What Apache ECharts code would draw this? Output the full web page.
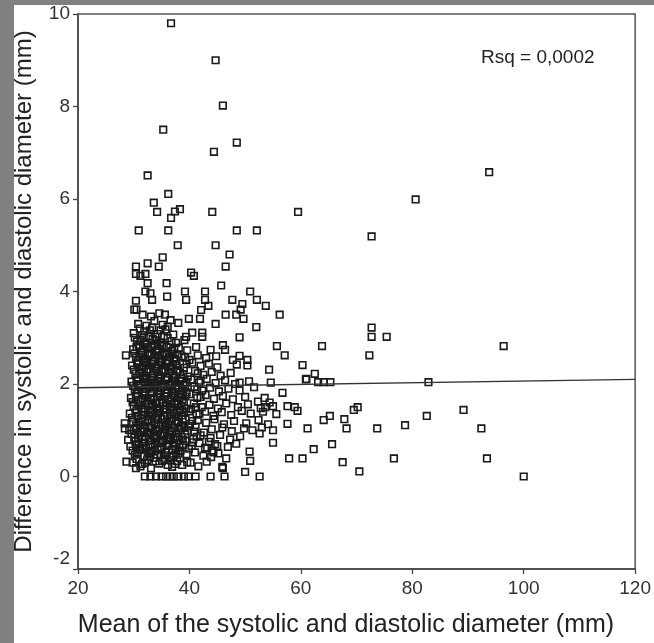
<!DOCTYPE html>
<html>
<head>
<meta charset="utf-8">
<script src="https://cdn.jsdelivr.net/npm/echarts@6/dist/echarts.min.js"></script>
<style>
html,body{margin:0;padding:0;background:#808080;}
#chart{width:654px;height:643px;}
</style>
</head>
<body>
<div id="chart"></div>
<script>
// ---- data ----
const xTickValues = [20, 40, 60, 80, 100, 120];
const yTickValues = [-2, 0, 2, 4, 6, 8, 10];
const xTitle = 'Mean of the systolic and diastolic diameter (mm)';
const yTitle = 'Difference in systolic and diastolic diameter (mm)';
const rsqText = 'Rsq = 0,0002';
const fitLine = [[20, 1.92], [120, 2.10]];

const outlierPoints = [
  [36.7,9.80],[44.7,9.0],[46.0,8.02],[35.3,7.50],[48.5,7.22],[44.4,7.02],
  [32.5,6.51],[36.2,6.11],[33.6,5.92],[34.2,5.72],[36.7,5.59],[37.4,5.73],
  [38.3,5.78],[44.1,5.72],[59.5,5.72],[30.9,5.32],[36.2,5.32],[48.5,5.32],
  [52.1,5.32],[37.9,5.0],[44.7,5.0],[47.2,4.80],[93.8,6.58],[80.6,5.99],
  [72.7,5.19]
];

const upperPoints = [
  [35.2,4.74],[32.5,4.61],[30.4,4.54],[34.5,4.54],[46.5,4.54],[30.4,4.38],
  [31.2,4.34],[32.1,4.38],[40.3,4.41],[40.8,4.34],[32.5,4.18],[35.9,4.18],
  [45.7,4.13],[32.1,4.0],[33.0,3.96],[39.2,4.0],[39.4,3.82],[42.8,4.0],
  [42.8,3.82],[50.9,4.0],[52.1,3.82],[53.7,3.69],[36.0,3.89],[33.3,3.82],
  [30.4,3.80],[30.1,3.61],[30.5,3.61],[47.7,3.82],[49.5,3.73],[49.2,3.61],
  [43.4,3.69],[42.1,3.6],[56.2,3.50],[35.6,3.50],[46.5,3.50],[48.4,3.50],
  [39.9,3.41],[41.9,3.41],[49.7,3.41],[44.7,3.30],[52.0,3.23],[39.4,3.02],
  [40.5,3.11],[42.3,3.11],[42.3,3.02],[49.0,3.01],[55.7,2.82],[57.1,2.62],
  [63.8,2.82],[46.0,2.84],[46.4,2.74],[47.8,2.52],[49.0,2.61],[50.4,2.52],
  [50.4,2.40],[54.3,2.31],[28.6,2.62]
];

const rightPoints = [
  [72.7,3.22],[72.7,3.02],[75.4,3.02],[96.4,2.82],[72.3,2.62],[60.3,2.41],
  [62.5,2.22],[61.0,2.11],[60.9,2.10],[63.1,2.04],[64.1,2.04],[65.3,2.04],
  [82.9,2.04],[54.6,2.03],[56.7,1.81],[49.0,2.03],[57.6,1.52],[58.9,1.50],
  [59.4,1.42],[70.2,1.50],[69.5,1.44],[65.2,1.31],[64.1,1.22],[67.8,1.24],
  [82.6,1.31],[89.2,1.44],[57.6,1.14],[61.2,1.04],[68.2,1.04],[73.7,1.04],
  [78.7,1.11],[92.4,1.04],[65.6,0.70],[62.3,0.59],[57.9,0.39],[60.3,0.39],
  [67.5,0.31],[70.5,0.11],[76.7,0.39],[93.4,0.39],[100.0,0.0],
  [52.3,1.62],[53.6,1.50],[54.4,1.60]
];

const lowerPoints = [
  [52.6,0.0],[50.0,0.10],[46.3,0.0],[43.8,0.0],[46.0,0.18],[41.1,0.0],[39.8,0.0],
  [32.0,0.0],[33.0,0.0],[34.0,0.0],[35.0,0.0],[35.8,0.0],[36.5,0.0],[37.2,0.0],
  [38.0,0.0],[39.0,0.0],[50.8,0.54],[50.9,0.34],[55.0,0.73],[52.6,0.93],
  [55.0,1.0],[46.6,0.39],[43.1,0.32],[45.9,0.21],[28.7,0.32],[30.4,0.18],
  [29.0,0.79],[30.4,0.68],[28.4,1.15],[28.4,1.04],
  [42.8,0.62],[43.5,0.75],[44.3,0.52],[45.0,0.66],[43.9,0.42]
];

const denseRows = [
  [29.8,0.3],[31.2,0.22],[32.4,0.35],[33.1,0.18],[34.6,0.28],[35.5,0.36],[36.9,0.21],[37.8,0.33],[38.7,0.25],[40.2,0.3],[41.6,0.22],
  [30.6,0.5],[31.9,0.44],[33.3,0.55],[34.2,0.47],[35.8,0.52],[37.1,0.45],[38.4,0.56],[39.5,0.48],[41.0,0.52],[42.5,0.45],[44.1,0.56],[45.2,0.5],
  [29.4,0.65],[30.9,0.7],[32.2,0.62],[33.8,0.72],[34.9,0.64],[36.3,0.71],[37.5,0.6],[38.9,0.68],[40.4,0.66],[41.8,0.72],[43.2,0.62],[44.6,0.7],[46.9,0.64],[48.4,0.71],
  [30.1,0.84],[31.5,0.8],[32.8,0.9],[34.0,0.82],[35.4,0.88],[36.6,0.79],[37.9,0.86],[39.2,0.91],[40.7,0.81],[42.0,0.89],[43.8,0.83],[45.5,0.9],[47.3,0.8],[49.1,0.87],
  [29.2,1.0],[30.5,1.05],[31.8,0.96],[33.0,1.06],[34.4,0.98],[35.7,1.08],[36.9,0.97],[38.2,1.04],[39.6,0.99],[41.1,1.07],[42.6,0.95],[44.0,1.02],[45.9,1.06],[47.6,0.98],[49.8,1.04],[51.3,1.0],[53.0,1.06],
  [29.9,1.18],[31.1,1.12],[32.5,1.22],[33.7,1.15],[35.0,1.24],[36.2,1.13],[37.6,1.2],[38.8,1.25],[40.1,1.14],[41.5,1.22],[43.0,1.16],[44.5,1.24],[46.2,1.13],[48.0,1.2],[50.2,1.15],[52.4,1.22],[54.1,1.13],
  [29.3,1.36],[30.7,1.31],[32.0,1.4],[33.4,1.33],[34.7,1.42],[36.0,1.3],[37.3,1.38],[38.6,1.32],[39.9,1.41],[41.3,1.34],[42.8,1.4],[44.3,1.31],[45.8,1.39],[47.5,1.33],[49.4,1.42],[51.0,1.36],[53.2,1.4],[55.6,1.35],
  [30.0,1.52],[31.4,1.47],[32.7,1.57],[34.1,1.49],[35.3,1.6],[36.7,1.5],[38.0,1.56],[39.4,1.47],[40.8,1.58],[42.2,1.5],[43.6,1.55],[45.1,1.47],[46.6,1.58],[48.7,1.5],[50.5,1.56],[52.8,1.48],[55.0,1.52],
  [29.5,1.7],[30.8,1.66],[32.1,1.75],[33.5,1.68],[34.8,1.77],[36.1,1.67],[37.4,1.74],[38.7,1.66],[40.0,1.78],[41.4,1.7],[42.9,1.76],[44.4,1.68],[46.0,1.74],[47.8,1.67],[50.0,1.72],[53.5,1.7],
  [30.2,1.88],[31.6,1.83],[32.9,1.93],[34.3,1.85],[35.6,1.95],[36.8,1.84],[38.1,1.9],[39.5,1.82],[40.9,1.94],[42.3,1.86],[43.7,1.92],[45.3,1.84],[47.0,1.9],[49.0,1.86],[51.6,1.93],
  [29.6,2.05],[30.9,2.0],[32.3,2.1],[33.6,2.02],[34.9,2.12],[36.2,2.01],[37.5,2.08],[38.9,2.0],[40.3,2.1],[41.7,2.03],[43.1,2.11],[44.7,2.02],[46.4,2.08],[48.2,2.0],[50.7,2.06],
  [30.3,2.22],[31.7,2.17],[33.0,2.27],[34.4,2.19],[35.7,2.29],[37.0,2.18],[38.3,2.25],[39.7,2.16],[41.0,2.28],[42.5,2.2],[44.0,2.26],[45.6,2.18],[47.4,2.24],
  [29.7,2.4],[31.0,2.36],[32.4,2.45],[33.8,2.38],[35.1,2.47],[36.4,2.37],[37.7,2.43],[39.0,2.35],[40.5,2.46],[42.0,2.39],[43.5,2.44],[45.0,2.36],[48.5,2.42],
  [30.4,2.57],[31.8,2.53],[33.2,2.62],[34.5,2.55],[35.9,2.64],[37.2,2.54],[38.6,2.6],[40.0,2.52],[41.5,2.62],[43.0,2.56],[44.8,2.6],
  [29.9,2.75],[31.3,2.7],[32.6,2.8],[34.0,2.72],[35.4,2.82],[36.8,2.71],[38.1,2.78],[39.6,2.73],[41.2,2.8],[43.8,2.74],
  [30.6,2.92],[32.0,2.88],[33.4,2.97],[34.8,2.9],[36.1,2.99],[37.6,2.89],[39.1,2.95],
  [30.0,3.1],[31.5,3.06],[32.9,3.16],[34.3,3.08],[35.7,3.18],[37.1,3.07],
  [30.8,3.3],[32.3,3.26],[33.7,3.36],[35.2,3.28],[36.6,3.38],[38.0,3.32],
  [31.6,3.5],[33.1,3.46],[34.6,3.53]
];

const coreFill = [
  [30.5,0.38],[32.0,0.3],[33.6,0.4],[35.1,0.33],[36.4,0.42],[37.4,0.27],
  [29.8,0.56],[31.2,0.6],[32.8,0.5],[34.3,0.58],[35.6,0.46],[36.9,0.57],[38.0,0.5],
  [30.3,0.76],[31.8,0.73],[33.2,0.78],[34.5,0.74],[36.0,0.8],[37.3,0.72],
  [29.6,0.92],[31.0,0.89],[32.4,0.95],[33.6,0.88],[35.1,0.94],[36.4,0.9],[37.6,0.93],[38.6,0.86],
  [30.4,1.09],[31.9,1.04],[33.3,1.1],[34.6,1.03],[35.9,1.1],[37.3,1.05],[38.5,1.1],
  [29.7,1.27],[31.3,1.25],[32.6,1.3],[34.0,1.27],[35.5,1.31],[36.8,1.26],[38.1,1.29],[39.3,1.24],
  [30.5,1.43],[31.7,1.45],[33.1,1.44],[34.4,1.46],[35.8,1.44],[37.0,1.45],[38.3,1.44],
  [29.8,1.61],[31.2,1.62],[32.5,1.64],[33.9,1.6],[35.2,1.66],[36.5,1.62],[37.8,1.63],[39.0,1.61],
  [30.5,1.79],[31.9,1.8],[33.2,1.8],[34.6,1.8],[35.9,1.8],[37.2,1.8],[38.5,1.78],
  [29.9,1.96],[31.3,1.97],[32.6,1.98],[33.9,1.96],[35.3,1.99],[36.5,1.96],[37.9,1.97],[39.2,1.96],
  [30.6,2.13],[32.0,2.14],[33.3,2.14],[34.7,2.15],[36.0,2.13],[37.3,2.14],[38.6,2.12],
  [30.0,2.31],[31.4,2.32],[32.7,2.32],[34.1,2.33],[35.4,2.31],[36.7,2.32],[38.0,2.31],
  [30.7,2.49],[32.0,2.5],[33.4,2.5],[34.8,2.5],[36.1,2.49],[37.5,2.5],
  [30.1,2.66],[31.5,2.67],[32.9,2.67],[34.2,2.68],[35.6,2.67],[37.0,2.66],
  [30.9,2.84],[32.3,2.85],[33.7,2.85],[35.1,2.85],
  [30.2,3.0],[31.8,3.01],[33.9,3.02]
];

const coreFill2 = [
  [31.5,0.27],[33.9,0.33],[36.1,0.25],[38.3,0.4],[39.6,0.31],
  [30.2,0.47],[32.5,0.52],[35.0,0.58],[37.6,0.51],[39.9,0.6],
  [31.6,0.66],[33.4,0.64],[35.9,0.68],[38.2,0.63],[40.6,0.74],
  [30.8,0.82],[33.7,0.85],[36.2,0.84],[38.8,0.8],[41.3,0.86],
  [31.4,0.99],[34.0,1.02],[36.6,1.0],[39.1,1.07],[40.9,0.97],
  [30.9,1.17],[33.2,1.19],[35.6,1.16],[38.0,1.15],[40.5,1.2],
  [31.8,1.34],[34.3,1.37],[36.5,1.35],[39.0,1.38],[41.8,1.36],
  [30.9,1.53],[33.4,1.51],[35.9,1.54],[38.6,1.52],[41.2,1.5],
  [31.6,1.69],[34.2,1.72],[36.8,1.71],[39.3,1.73],[42.0,1.72],
  [30.8,1.87],[33.5,1.9],[36.1,1.88],[38.8,1.86],[41.4,1.89],
  [31.9,2.05],[34.3,2.07],[36.9,2.05],[39.5,2.04],[42.0,2.07],
  [31.0,2.24],[33.6,2.23],[36.3,2.24],[38.9,2.21],[41.5,2.23],
  [31.7,2.41],[34.4,2.42],[37.0,2.41],[39.5,2.43],
  [31.0,2.59],[33.8,2.58],[36.5,2.59],[39.2,2.57],
  [31.7,2.77],[34.5,2.76],[37.3,2.76],
  [31.2,2.95],[34.1,2.94],[36.8,2.93],
  [31.1,3.2],[33.3,3.22],[36.1,3.24]
];

const coreFill3 = [
  [32.9,0.43],[34.9,0.48],[36.7,0.35],[30.9,0.58],[33.0,0.68],[35.3,0.76],
  [37.0,0.66],[39.3,0.77],[32.1,0.85],[34.8,0.92],[37.1,0.83],[30.0,1.01],
  [32.7,1.08],[35.2,1.12],[37.9,1.18],[39.9,1.09],[31.6,1.21],[34.3,1.23],
  [36.4,1.19],[30.3,1.38],[33.0,1.39],[35.3,1.47],[37.8,1.4],[40.3,1.46],
  [32.0,1.55],[34.6,1.58],[37.3,1.56],[30.4,1.72],[33.1,1.7],[35.6,1.73],
  [38.2,1.7],[32.2,1.9],[34.9,1.92],[37.5,1.9],[30.5,2.06],[33.1,2.06],
  [35.7,2.08],[38.3,2.06],[32.3,2.26],[35.0,2.26],[37.7,2.27],[30.6,2.44],
  [33.2,2.43],[35.8,2.44],[32.5,2.63],[35.1,2.62],[37.8,2.64],[30.5,2.8],
  [33.1,2.79],[35.9,2.8],[32.7,3.04],[35.4,3.03],[31.9,3.14],[34.8,3.16]
];

const allPoints = [].concat(outlierPoints, upperPoints, rightPoints, lowerPoints, denseRows, coreFill, coreFill2, coreFill3);

// ---- chart ----
const FONT = '"Liberation Sans", Arial, sans-serif';
const chart = echarts.init(document.getElementById('chart'), null, {renderer: 'canvas'});
chart.setOption({
  animation: false,
  backgroundColor: '#808080',
  graphic: [
    {type: 'rect', left: 14, top: 5, shape: {width: 640, height: 638}, style: {fill: '#ffffff'}, z: -10},
    {type: 'text', left: 481, top: 48, style: {text: rsqText, font: '19px ' + FONT, fill: '#222'}, z: 10},
    {type: 'text', x: 346, y: 625, style: {text: xTitle, font: '25px ' + FONT, fill: '#222', align: 'center', verticalAlign: 'middle'}, z: 10}
  ],
  grid: {left: 78, top: 14, right: 18, bottom: 74, show: true, borderColor: '#555', borderWidth: 1.5, backgroundColor: 'transparent'},
  xAxis: {
    type: 'value', min: 20, max: 120, interval: 20,
    axisLine: {show: true, onZero: false, lineStyle: {color: '#444', width: 1.5}},
    axisTick: {show: true, length: 5, lineStyle: {color: '#444', width: 1.3}},
    axisLabel: {fontSize: 19, color: '#333', fontFamily: FONT, margin: 10,
      formatter: v => xTickValues.includes(v) ? String(v) : ''},
    splitLine: {show: false}
  },
  yAxis: {
    type: 'value', min: -2, max: 10, interval: 2,
    name: yTitle, nameLocation: 'middle', nameGap: 42,
    nameTextStyle: {fontSize: 24, color: '#222', fontFamily: FONT},
    axisLine: {show: true, onZero: false, lineStyle: {color: '#444', width: 1.5}},
    axisTick: {show: true, length: 5, lineStyle: {color: '#444', width: 1.3}},
    axisLabel: {fontSize: 19, color: '#333', fontFamily: FONT, margin: 8,
      formatter: v => yTickValues.includes(v) ? (v === -2 ? '{low|-2}' : String(v)) : '',
      rich: {low: {fontSize: 19, color: '#333', fontFamily: FONT, padding: [0, 0, 20, 0]}}},
    splitLine: {show: false}
  },
  series: [
    {
      type: 'scatter', data: allPoints, symbol: 'rect', symbolSize: 6.6,
      itemStyle: {color: 'rgba(255,255,255,0)', borderColor: '#1a1a1a', borderWidth: 1.6, opacity: 1},
      emphasis: {disabled: true}, z: 2
    },
    {
      type: 'line', data: fitLine, symbol: 'none',
      lineStyle: {color: '#333', width: 1.4}, z: 3
    }
  ]
});
</script>
</body>
</html>
